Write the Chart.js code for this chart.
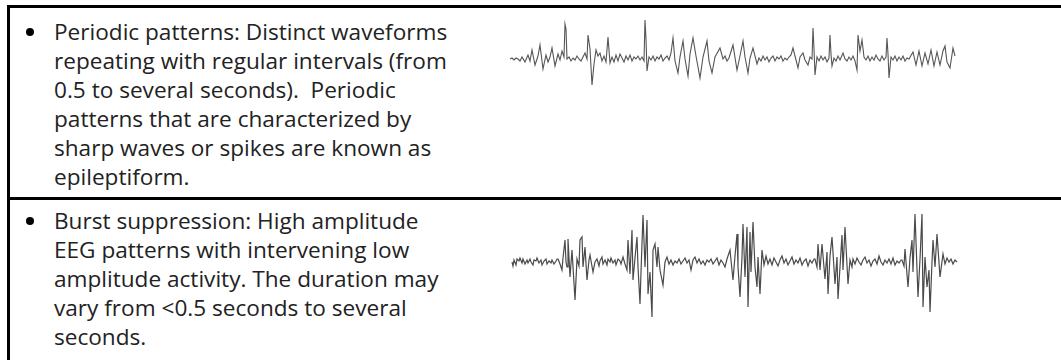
<!DOCTYPE html>
<html>
<head>
<meta charset="utf-8">
<script src="https://cdn.jsdelivr.net/npm/chart.js@4"></script>
<style>
  html, body { margin: 0; padding: 0; background: #fff; }
  body { width: 1061px; height: 360px; position: relative; overflow: hidden; }
  .rule { position: absolute; background: #000; }
  .cell-text {
    position: absolute; left: 54px; margin: 0;
    font-family: "Open Sans", sans-serif; font-size: 22.6px; line-height: 29px;
    color: #222; white-space: pre;
  }
  .bullet { position: absolute; width: 8px; height: 8px; border-radius: 50%; background: #000; left: 26px; }
  .wave { position: absolute; left: 505px; }
</style>
</head>
<body>
  <div class="rule" style="left:7px;top:5px;width:1054px;height:3px"></div>
  <div class="rule" style="left:7px;top:197px;width:1054px;height:3px"></div>
  <div class="rule" style="left:7px;top:5px;width:3px;height:355px"></div>

  <div class="bullet" style="top:28px"></div>
  <p class="cell-text" style="top:17px">Periodic patterns: Distinct waveforms
repeating with regular intervals (from
0.5 to several seconds).  Periodic
patterns that are characterized by
sharp waves or spikes are known as
epileptiform.</p>

  <div class="bullet" style="top:217px"></div>
  <p class="cell-text" style="top:206px">Burst suppression: High amplitude
EEG patterns with intervening low
amplitude activity. The duration may
vary from &lt;0.5 seconds to several
seconds.</p>

  <canvas id="wavePeriodic" class="wave" width="460" height="80" style="top:15px"></canvas>
  <canvas id="waveBurst" class="wave" width="460" height="120" style="top:205px"></canvas>

<script>
/* ── DATA: [time (x10 ms), amplitude] ─────────────────────────── */
const periodicTrace = [
  [0,0],[2,1],[4,-1],[6,1],[8,0],[10,-2],[12,2],[15,-3],[18,4],[20,-2],[22,9],[25,-6],[28,3],[30,14],[33,-10],
  [36,4],[38,-3],[40,2],[42,11],[45,-7],[48,5],[50,-1],[52,8],[54,2],[55,35],[56,30],[57,0],[59,2],[61,-2],
  [63,1],[65,-1],[67,3],[69,0],[71,-2],[73,2],[75,6],[77,0],[78,24],[80,10],[82,-26],[84,-5],[86,9],[88,3],
  [90,6],[92,-2],[94,3],[96,-3],[98,22],[100,-4],[102,2],[104,-3],[106,4],[108,-2],[110,5],[112,1],[114,-3],
  [116,3],[118,-1],[120,4],[122,-2],[124,2],[126,0],[128,3],[130,-1],[132,2],[134,-2],[135,39],[136,20],
  [137,-12],[139,2],[141,-1],[143,3],[145,-2],[147,2],[149,0],[151,4],[153,-2],[155,1],[157,3],[159,-1],
  [161,6],[163,21],[165,-2],[168,-14],[170,2],[173,18],[175,0],[178,-17],[180,5],[183,21],[186,3],[190,-19],
  [193,2],[197,18],[199,-2],[202,-14],[205,2],[210,11],[213,0],[215,3],[217,-2],[219,1],[223,14],[227,-11],
  [230,3],[233,18],[235,2],[238,-14],[240,1],[243,11],[247,-5],[249,1],[251,-2],[253,3],[255,-1],[257,2],
  [259,-3],[261,1],[263,3],[265,-2],[267,2],[269,0],[271,3],[273,-2],[275,1],[277,-1],[279,2],[281,4],
  [283,11],[285,3],[288,-9],[290,2],[293,6],[295,-1],[298,-6],[300,2],[302,0],[303,31],[304,10],[305,-16],
  [307,2],[309,-2],[311,3],[313,-1],[315,2],[317,-3],[319,1],[320,24],[321,5],[322,-7],[324,1],[326,-2],
  [328,3],[330,-1],[333,6],[335,0],[337,-2],[339,2],[341,-1],[343,3],[345,-2],[347,-11],[348,24],[350,8],
  [352,19],[354,2],[356,-1],[358,3],[360,-2],[362,2],[364,-1],[366,4],[368,0],[370,-2],[372,3],[374,-1],
  [376,2],[377,21],[378,5],[379,-19],[381,2],[383,-1],[385,3],[387,-2],[389,2],[391,-1],[393,3],[395,-2],
  [397,1],[399,0],[403,7],[406,-6],[409,8],[412,-7],[415,6],[418,-5],[421,9],[424,-7],[427,7],[430,-6],
  [433,8],[435,13],[437,-3],[440,-9],[443,11],[445,3]
];

const burstTrace = [
  [2,0],[3,-4],[4,2],[6,-3],[7,3],[9,1],[10,4],[12,-1],[13,3],[15,-2],[17,2],[18,-1],[20,3],[21,0],[23,-3],
  [24,2],[26,1],[27,4],[29,-1],[31,2],[32,-3],[34,1],[36,3],[37,-2],[39,1],[41,-1],[42,2],[44,-2],[46,1],
  [47,3],[48,3],[50,-2],[52,-8],[53,4],[55,22],[56,0],[57,-5],[58,23],[60,-15],[62,12],[65,-38],[67,3],
  [69,-4],[70,22],[72,25],[73,-5],[75,15],[77,-18],[79,2],[80,7],[83,-10],[85,0],[87,3],[89,-4],[90,1],
  [92,5],[93,-2],[95,2],[97,-3],[98,3],[100,0],[101,4],[103,-1],[105,2],[106,-3],[108,3],[110,1],[111,-2],
  [113,5],[115,-2],[117,-8],[118,22],[120,-12],[122,32],[123,-18],[125,4],[127,25],[128,-5],[130,-42],
  [131,-10],[133,47],[135,-5],[137,42],[138,-32],[140,-10],[142,-55],[143,12],[145,18],[147,-5],[148,15],
  [150,-8],[153,-23],[155,0],[157,5],[159,-2],[161,2],[163,-3],[165,1],[167,-1],[169,3],[171,-2],[173,1],
  [175,4],[177,-1],[179,2],[181,-8],[183,2],[185,5],[187,-1],[189,3],[191,-2],[193,1],[195,-3],[197,2],
  [199,0],[201,3],[203,-2],[205,1],[207,4],[209,-3],[211,2],[213,-1],[215,-5],[217,3],[220,12],[223,-18],
  [225,6],[227,28],[228,-5],[230,-35],[232,5],[233,38],[235,-15],[237,35],[238,-45],[240,30],[241,-10],
  [243,40],[245,-5],[247,-25],[248,5],[250,-32],[252,12],[254,-3],[256,6],[258,-2],[260,3],[262,-3],
  [264,4],[266,0],[268,-4],[270,2],[272,6],[274,-1],[276,3],[278,-3],[280,1],[282,5],[284,-2],[286,2],
  [288,-1],[290,4],[292,-3],[294,1],[296,3],[298,-4],[300,2],[302,-1],[304,3],[305,3],[307,-5],[308,18],
  [310,-8],[312,18],[315,-17],[317,10],[318,-32],[320,6],[322,25],[325,-22],[327,5],[328,-37],[330,-5],
  [332,27],[333,-8],[335,35],[338,-22],[340,2],[342,-5],[343,3],[345,-2],[347,4],[349,0],[351,-3],[353,2],
  [355,5],[357,-1],[359,2],[361,-4],[363,1],[365,3],[367,-2],[369,6],[371,0],[373,-3],[375,2],[377,-1],
  [379,3],[381,-2],[383,4],[385,-3],[387,1],[389,-1],[391,2],[392,2],[394,-4],[395,13],[398,-25],[400,4],
  [402,22],[403,-10],[405,48],[408,-35],[410,3],[412,48],[413,-45],[415,5],[417,-25],[419,-8],[420,-50],
  [422,0],[423,22],[425,-5],[427,28],[430,-15],[433,8],[435,-2],[437,4],[439,0],[441,3],[443,-2],[445,2],
  [447,0]
];

// visible window of each trace (time and amplitude)
const timeRange     = [-5, 455];
const periodicRange = [-36, 44];
const burstRange    = [-63, 57];

/* ── CHART ──────────────────────────────────────────────────── */
function drawTrace(id, trace, yRange, color, width) {
  const ctx = document.getElementById(id).getContext('2d');
  return new Chart(ctx, {
    type: 'line',
    data: {
      datasets: [{
        data: trace.map(p => ({ x: p[0], y: p[1] })),
        borderColor: color,
        borderWidth: width,
        pointRadius: 0,
        tension: 0,
        fill: false,
      }],
    },
    options: {
      responsive: false,
      animation: false,
      devicePixelRatio: 1,
      layout: { padding: 0 },
      plugins: { legend: { display: false }, tooltip: { enabled: false } },
      scales: {
        x: { type: 'linear', display: false, min: timeRange[0], max: timeRange[1] },
        y: { display: false, min: yRange[0], max: yRange[1] },
      },
    },
  });
}

drawTrace('wavePeriodic', periodicTrace, periodicRange, '#555', 1.1);
drawTrace('waveBurst', burstTrace, burstRange, '#4a4a4a', 1.2);
</script>
</body>
</html>
